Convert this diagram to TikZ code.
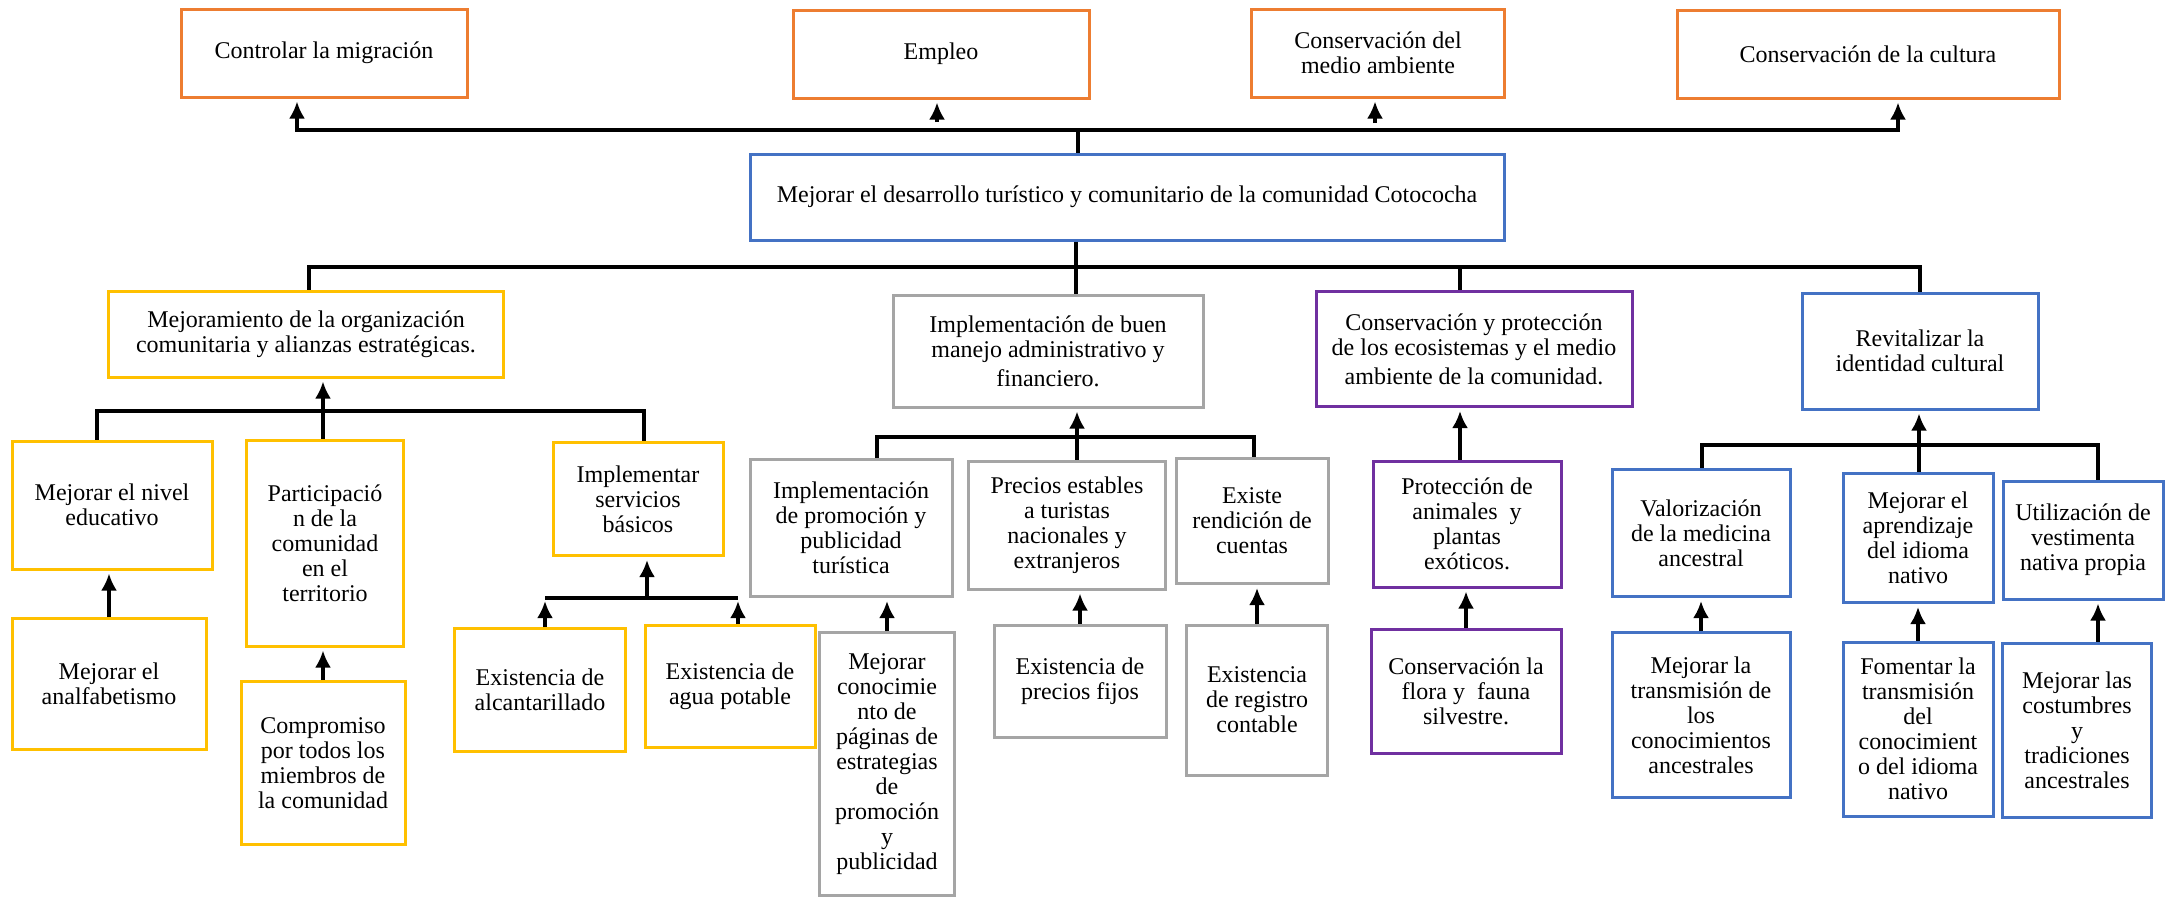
\documentclass[tikz,border=0pt]{standalone}
\usepackage{fontspec}
\setmainfont{Liberation Serif}
\usepackage{xcolor}
\usetikzlibrary{arrows.meta,positioning}

\definecolor{naranja}{HTML}{ED7D31}
\definecolor{azul}{HTML}{4472C4}
\definecolor{amarillo}{HTML}{FFC000}
\definecolor{gris}{HTML}{A5A5A5}
\definecolor{morado}{HTML}{7030A0}

\begin{document}
\begin{tikzpicture}[
    x=1pt, y=-1pt,
    font=\fontsize{24}{25}\selectfont,
    box/.style={draw, line width=3pt, align=center, inner sep=2pt},
    obox/.style={box, draw=naranja},
    bbox/.style={box, draw=azul},
    ybox/.style={box, draw=amarillo},
    gbox/.style={box, draw=gris},
    pbox/.style={box, draw=morado},
    link/.style={line width=4.5pt},
    arr/.style={link, shorten >=3pt, -{Latex[length=17pt,width=16pt]}}
]
\useasboundingbox (0,0) rectangle (2166,897);

% fines
\node[obox, minimum width=286pt, minimum height=88pt] (migr) at (324,53) {Controlar la migración};
\node[obox, minimum width=296pt, minimum height=88pt] (empleo) at (941,54) {Empleo};
\node[obox, minimum width=253pt, minimum height=88pt] (medio) at (1378,53) {Conservación del\\medio ambiente};
\node[obox, minimum width=382pt, minimum height=88pt] (cult) at (1868,54) {Conservación de la cultura};

% objetivo central
\node[bbox, minimum width=754pt, minimum height=86pt] (cent) at (1127,197) {Mejorar el desarrollo turístico y comunitario de la comunidad Cotococha};

% medios
\node[ybox, minimum width=395pt, minimum height=86pt] (mejora) at (306,334) {Mejoramiento de la organización\\comunitaria y alianzas estratégicas.};
\node[gbox, minimum width=310pt, minimum height=112pt] (admin) at (1048,351) {Implementación de buen\\manejo administrativo y\\[4pt]financiero.};
\node[pbox, minimum width=316pt, minimum height=115pt] (ecos) at (1474,349) {Conservación y protección\\de los ecosistemas y el medio\\[4pt]ambiente de la comunidad.};
\node[bbox, minimum width=236pt, minimum height=116pt] (ident) at (1920,351) {Revitalizar la\\identidad cultural};

% rama organizacion
\node[ybox, minimum width=200pt, minimum height=128pt] (nivel) at (112,505) {Mejorar el nivel\\educativo};
\node[ybox, minimum width=157pt, minimum height=206pt] (partic) at (325,543) {Participació\\n de la\\comunidad\\en el\\territorio};
\node[ybox, minimum width=170pt, minimum height=113pt] (serv) at (638,499) {Implementar\\servicios\\básicos};
\node[ybox, minimum width=194pt, minimum height=131pt] (analf) at (109,684) {Mejorar el\\analfabetismo};
\node[ybox, minimum width=164pt, minimum height=163pt] (compr) at (323,763) {Compromiso\\por todos los\\miembros de\\la comunidad};
\node[ybox, minimum width=171pt, minimum height=123pt] (alcan) at (540,690) {Existencia de\\alcantarillado};
\node[ybox, minimum width=170pt, minimum height=122pt] (agua) at (730,686) {Existencia de\\agua potable};

% rama administrativa
\node[gbox, minimum width=202pt, minimum height=137pt] (promo) at (851,528) {Implementación\\de promoción y\\publicidad\\turística};
\node[gbox, minimum width=197pt, minimum height=128pt] (precios) at (1067,525) {Precios estables\\a turistas\\nacionales y\\extranjeros};
\node[gbox, minimum width=152pt, minimum height=125pt] (rend) at (1252,521) {Existe\\rendición de\\cuentas};
\node[gbox, minimum width=135pt, minimum height=263pt] (conoc) at (887,764) {Mejorar\\conocimie\\nto de\\páginas de\\estrategias\\de\\promoción\\y\\publicidad};
\node[gbox, minimum width=172pt, minimum height=112pt] (fijos) at (1080,681) {Existencia de\\precios fijos};
\node[gbox, minimum width=141pt, minimum height=150pt] (regis) at (1257,700) {Existencia\\de registro\\contable};

% rama ambiental
\node[pbox, minimum width=188pt, minimum height=126pt] (anim) at (1467,524) {Protección de\\animales\ \ y\\plantas\\exóticos.};
\node[pbox, minimum width=190pt, minimum height=124pt] (flora) at (1466,691) {Conservación la\\flora y\ \ fauna\\silvestre.};

% rama cultural
\node[bbox, minimum width=178pt, minimum height=127pt] (valor) at (1701,533) {Valorización\\de la medicina\\ancestral};
\node[bbox, minimum width=150pt, minimum height=129pt] (aprend) at (1918,538) {Mejorar el\\aprendizaje\\del idioma\\nativo};
\node[bbox, minimum width=160pt, minimum height=118pt] (vest) at (2083,540) {Utilización de\\vestimenta\\nativa propia};
\node[bbox, minimum width=178pt, minimum height=165pt] (transm) at (1701,715) {Mejorar la\\transmisión de\\los\\conocimientos\\ancestrales};
\node[bbox, minimum width=150pt, minimum height=174pt] (fomen) at (1918,729) {Fomentar la\\transmisión\\del\\conocimient\\o del idioma\\nativo};
\node[bbox, minimum width=149pt, minimum height=174pt] (costum) at (2077,730) {Mejorar las\\costumbres\\y\\tradiciones\\ancestrales};

% puntos de las barras
\coordinate (tb) at (1078,130);
\coordinate (t1) at (297,130);
\coordinate (t2) at (937,122);
\coordinate (t3) at (1375,123);
\coordinate (t4) at (1898,130);
\coordinate (mb) at (1076,267);
\coordinate (m1) at (309,267);
\coordinate (m3) at (1460,267);
\coordinate (m4) at (1920,267);
\coordinate (l1) at (97,411);
\coordinate (l2) at (323,411);
\coordinate (l3) at (644,411);
\coordinate (s1) at (545,598);
\coordinate (s2) at (647,598);
\coordinate (s3) at (738,598);
\coordinate (a1) at (877,437);
\coordinate (a2) at (1077,437);
\coordinate (a3) at (1254,437);
\coordinate (i1) at (1702,445);
\coordinate (i2) at (1919,445);
\coordinate (i3) at (2098,445);

% central -> fines
\draw[link] (cent.north -| tb) -- (tb);
\draw[arr] (tb) -| (t1 |- migr.south);
\draw[arr] (tb) -| (t4 |- cult.south);
\draw[arr] (t2) -- (t2 |- empleo.south);
\draw[arr] (t3) -- (t3 |- medio.south);

% central -> medios
\draw[link] (cent.south -| mb) -- (mb |- admin.north);
\draw[link] (m1 |- mejora.north) |- (m4) -- (m4 |- ident.north);
\draw[link] (m3) -- (m3 |- ecos.north);

% organizacion
\draw[arr] (l2) -- (l2 |- mejora.south);
\draw[link] (l1 |- nivel.north) |- (l3) -- (l3 |- serv.north);
\draw[link] (l2) -- (l2 |- partic.north);
\draw[arr] (analf.north) -- (analf.north |- nivel.south);
\draw[arr] (compr.north) -- (compr.north |- partic.south);
\draw[arr] (s2) -- (s2 |- serv.south);
\draw[link] (s1) -- (s3);
\draw[arr] (s1 |- alcan.north) -- (s1);
\draw[arr] (s3 |- agua.north) -- (s3);

% administrativa
\draw[link] (a1 |- promo.north) |- (a3) -- (a3 |- rend.north);
\draw[arr] (a2 |- precios.north) -- (a2 |- admin.south);
\draw[arr] (conoc.north) -- (conoc.north |- promo.south);
\draw[arr] (fijos.north) -- (fijos.north |- precios.south);
\draw[arr] (regis.north) -- (regis.north |- rend.south);

% ambiental
\draw[arr] (m3 |- anim.north) -- (m3 |- ecos.south);
\draw[arr] (flora.north) -- (flora.north |- anim.south);

% cultural
\draw[link] (i1 |- valor.north) |- (i3) -- (i3 |- vest.north);
\draw[arr] (i2 |- aprend.north) -- (i2 |- ident.south);
\draw[arr] (transm.north) -- (transm.north |- valor.south);
\draw[arr] (fomen.north) -- (fomen.north |- aprend.south);
\draw[arr] (i3 |- costum.north) -- (i3 |- vest.south);
\end{tikzpicture}
\end{document}
